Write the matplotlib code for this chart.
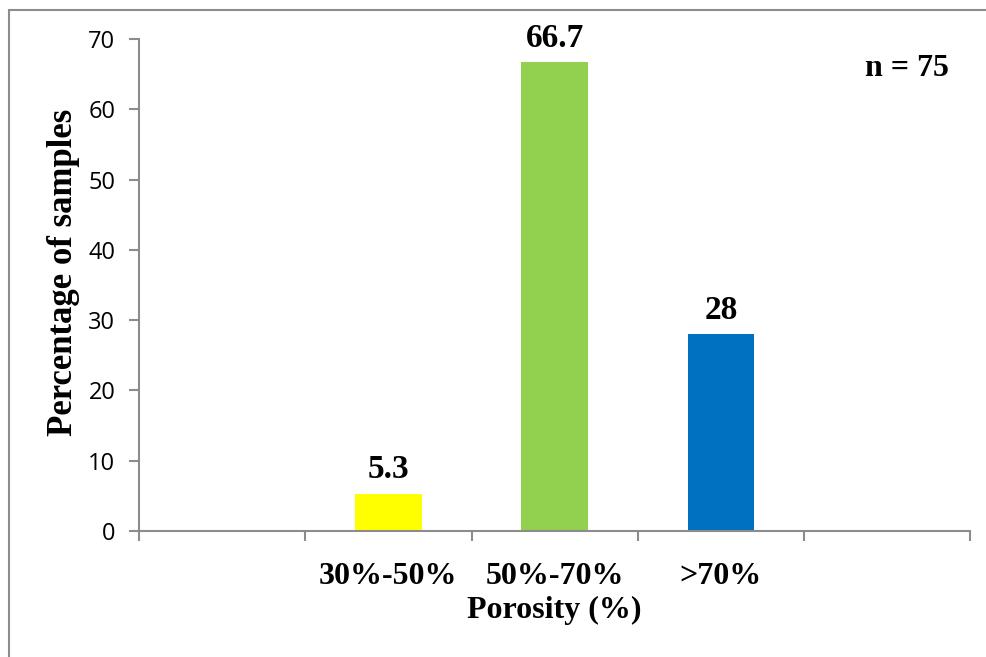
import matplotlib
matplotlib.use("Agg")
import matplotlib.pyplot as plt
from matplotlib.patches import Rectangle

# porosity classes and share of samples (%)
categories = ["", "30%-50%", "50%-70%", ">70%", ""]
percent = [None, 5.3, 66.7, 28, None]
bar_colors = ["#FFFF00", "#92D050", "#0070C0"]
n_samples = 75

serif = ["Liberation Serif", "DejaVu Serif"]
axis_grey = "#8c8c8c"

fig = plt.figure(figsize=(9.86, 6.57), dpi=100)
ax = fig.add_axes([0.141, 0.1918, 0.843, 0.7488])

# outer frame of the chart area
fig.patches.append(Rectangle((9 / 986, -0.1), 1.2, 1 - 10 / 657 + 0.1,
                             transform=fig.transFigure, fill=False,
                             edgecolor=axis_grey, linewidth=1.5))

xs = [i for i, v in enumerate(percent) if v is not None]
vals = [percent[i] for i in xs]
ax.bar(xs, vals, width=0.4, color=bar_colors, zorder=2)

for x, v in zip(xs, vals):
    ax.annotate(f"{v:g}", (x, v), xytext=(0, 6), textcoords="offset points",
                ha="center", va="bottom", fontsize=24, fontweight="bold",
                family=serif)

ax.set_xlim(-0.5, len(categories) - 0.5)
ax.set_ylim(0, 70)
ax.set_yticks(range(0, 71, 10))

# boundary ticks between classes, labels centred under each class
ax.set_xticks([i - 0.5 for i in range(len(categories) + 1)])
ax.set_xticklabels([])
ax.set_xticks(range(len(categories)), minor=True)
ax.set_xticklabels(categories, minor=True, fontsize=23, fontweight="bold",
                   family=serif)
ax.tick_params(axis="x", which="minor", length=0, pad=22)
ax.tick_params(axis="x", which="major", length=7, color=axis_grey, width=1.5)
ax.tick_params(axis="y", length=7, color=axis_grey, width=1.5,
               labelsize=17, pad=10)
for lbl in ax.get_yticklabels():
    lbl.set_family(["Open Sans", "DejaVu Sans"])

for side in ["top", "right"]:
    ax.spines[side].set_visible(False)
for side in ["left", "bottom"]:
    ax.spines[side].set_color(axis_grey)
    ax.spines[side].set_linewidth(1.5)

ax.set_xlabel("Porosity (%)", fontsize=23, fontweight="bold", family=serif,
              labelpad=4)
ax.set_ylabel("Percentage of samples", fontsize=25, fontweight="bold",
              family=serif)
ax.yaxis.set_label_coords(-0.071, 0.525)

ax.text(0.924, 0.94, f"n = {n_samples}", transform=ax.transAxes, ha="center",
        va="center", fontsize=23, fontweight="bold", family=serif)

fig.savefig("out.png", dpi=100)
